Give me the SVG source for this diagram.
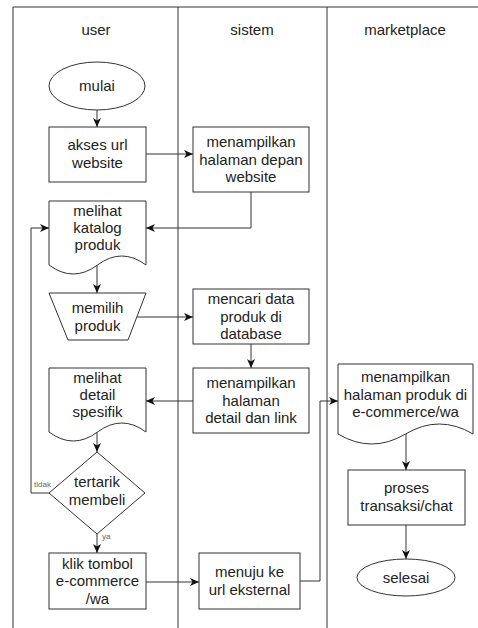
<svg xmlns="http://www.w3.org/2000/svg" width="478" height="628" viewBox="0 0 478 628">
  <style>
    .lane { fill: none; stroke: #333; stroke-width: 1; }
    .shape { fill: #fff; stroke: #333; stroke-width: 1; }
    .label { font-family: "Liberation Sans", Arial, sans-serif; font-size: 15px; fill: #222; text-anchor: middle; }
    .small { font-family: "Liberation Sans", Arial, sans-serif; font-size: 8px; fill: #666; }
    .edge { fill: none; stroke: #333; stroke-width: 1; marker-end: url(#arrow); }
  </style>
  <defs>
    <marker id="arrow" markerUnits="userSpaceOnUse" markerWidth="10" markerHeight="10" refX="9" refY="4" orient="auto">
      <path d="M0,0 L9,4 L0,8 L2.5,4 Z" fill="#111"/>
    </marker>
  </defs>

  <rect width="478" height="628" fill="#fff"/>

  <!-- swimlanes -->
  <g id="lanes">
    <path class="lane" d="M13,628 V7 H478 M178,7 V628 M327,7 V628"/>
    <text class="label" x="96" y="35">user</text>
    <text class="label" x="252" y="35">sistem</text>
    <text class="label" x="405" y="35">marketplace</text>
  </g>

  <!-- connectors -->
  <g id="connectors">
    <path class="edge" d="M97,110 V127"/>
    <path class="edge" d="M146,154 H193"/>
    <path class="edge" d="M251,192 V228 H146"/>
    <path class="edge" d="M97,265 V293"/>
    <path class="edge" d="M137,317 H193"/>
    <path class="edge" d="M251,344 V368"/>
    <path class="edge" d="M193,401 H146"/>
    <path class="edge" d="M97,432 V452"/>
    <path class="edge" d="M49,493 H31 V228 H49"/>
    <text class="small" x="51" y="487" text-anchor="end">tidak</text>
    <path class="edge" d="M97,534 V553"/>
    <text class="small" x="102" y="539">ya</text>
    <path class="edge" d="M146,582 H199"/>
    <path class="edge" d="M300,581 H320 V401 H338"/>
    <path class="edge" d="M406,434 V470"/>
    <path class="edge" d="M406,525 V559"/>
  </g>

  <g id="mulai">
    <ellipse class="shape" cx="97" cy="86" rx="48" ry="24"/>
    <text class="label" x="97" y="91">mulai</text>
  </g>

  <g id="akses-url">
    <rect class="shape" x="49" y="127" width="97" height="55"/>
    <text class="label" x="97.5" y="150"><tspan x="97.5">akses url</tspan><tspan x="97.5" dy="17.5">website</tspan></text>
  </g>

  <g id="halaman-depan">
    <rect class="shape" x="193" y="127" width="116" height="65"/>
    <text class="label" x="251" y="147"><tspan x="251">menampilkan</tspan><tspan x="251" dy="17.5">halaman depan</tspan><tspan x="251" dy="17.5">website</tspan></text>
  </g>

  <g id="katalog">
    <path class="shape" d="M49,201 H146 V265 Q121.75,247 97.5,265 Q73.25,283 49,265 Z"/>
    <text class="label" x="97.5" y="216"><tspan x="97.5">melihat</tspan><tspan x="97.5" dy="17">katalog</tspan><tspan x="97.5" dy="17">produk</tspan></text>
  </g>

  <g id="memilih-produk">
    <path class="shape" d="M49,293 H146 L128,340 H68 Z"/>
    <text class="label" x="97.5" y="313"><tspan x="97.5">memilih</tspan><tspan x="97.5" dy="17.5">produk</tspan></text>
  </g>

  <g id="cari-data">
    <rect class="shape" x="193" y="289" width="116" height="55"/>
    <text class="label" x="251" y="304"><tspan x="251">mencari data</tspan><tspan x="251" dy="17.5">produk di</tspan><tspan x="251" dy="17.5">database</tspan></text>
  </g>

  <g id="halaman-detail">
    <rect class="shape" x="193" y="368" width="116" height="65"/>
    <text class="label" x="251" y="388"><tspan x="251">menampilkan</tspan><tspan x="251" dy="17.5">halaman</tspan><tspan x="251" dy="17.5">detail dan link</tspan></text>
  </g>

  <g id="detail-spesifik">
    <path class="shape" d="M49,368 H146 V432 Q121.75,414 97.5,432 Q73.25,450 49,432 Z"/>
    <text class="label" x="97.5" y="383"><tspan x="97.5">melihat</tspan><tspan x="97.5" dy="17">detail</tspan><tspan x="97.5" dy="17">spesifik</tspan></text>
  </g>

  <g id="tertarik">
    <path class="shape" d="M97,452 L145,493 L97,534 L49,493 Z"/>
    <text class="label" x="97" y="487"><tspan x="97">tertarik</tspan><tspan x="97" dy="17.5">membeli</tspan></text>
  </g>

  <g id="klik-tombol">
    <rect class="shape" x="49" y="553" width="97" height="56"/>
    <text class="label" x="97.5" y="568.5"><tspan x="97.5">klik tombol</tspan><tspan x="97.5" dy="17.5">e-commerce</tspan><tspan x="97.5" dy="17.5">/wa</tspan></text>
  </g>

  <g id="url-eksternal">
    <rect class="shape" x="199" y="553" width="101" height="56"/>
    <text class="label" x="249.5" y="577"><tspan x="249.5">menuju ke</tspan><tspan x="249.5" dy="17.5">url eksternal</tspan></text>
  </g>

  <g id="halaman-produk">
    <path class="shape" d="M338,364 H473 V434 Q439.25,414 405.5,434 Q371.75,454 338,434 Z"/>
    <text class="label" x="405.5" y="382"><tspan x="405.5">menampilkan</tspan><tspan x="405.5" dy="17.5">halaman produk di</tspan><tspan x="405.5" dy="17.5">e-commerce/wa</tspan></text>
  </g>

  <g id="proses-transaksi">
    <rect class="shape" x="348" y="470" width="117" height="55"/>
    <text class="label" x="406.5" y="493"><tspan x="406.5">proses</tspan><tspan x="406.5" dy="17.5">transaksi/chat</tspan></text>
  </g>

  <g id="selesai">
    <ellipse class="shape" cx="406" cy="577.5" rx="49" ry="18.5"/>
    <text class="label" x="406" y="582.5">selesai</text>
  </g>
</svg>
